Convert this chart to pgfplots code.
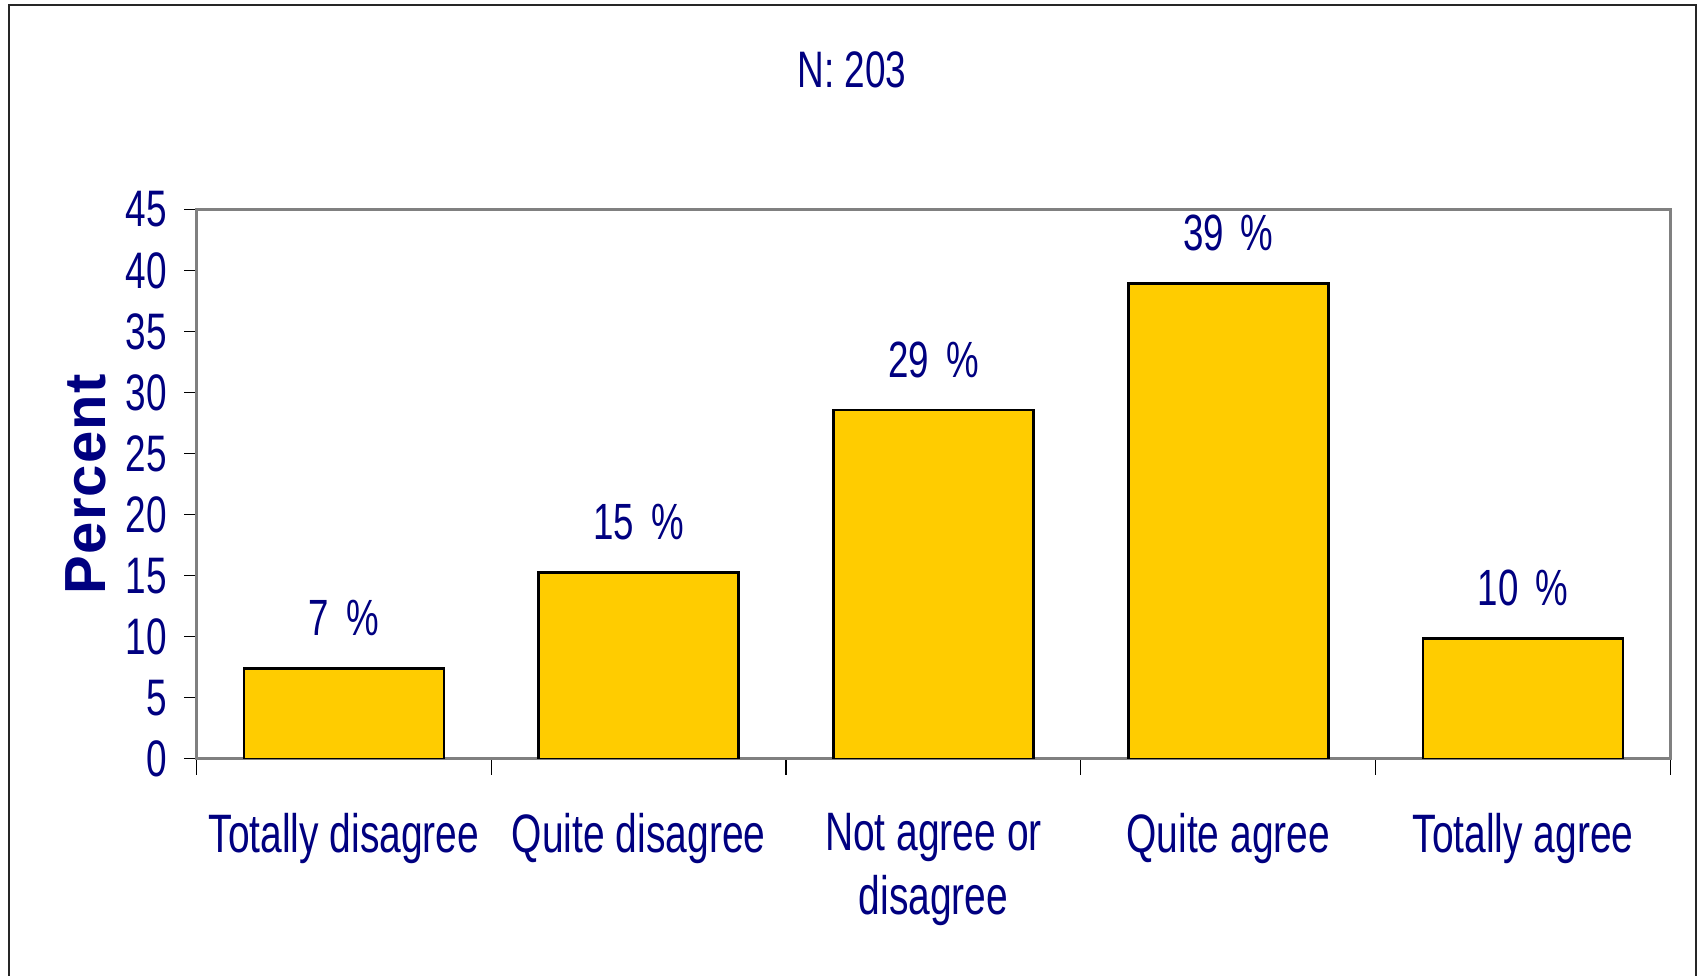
\documentclass[border=0pt]{standalone}
\usepackage{fontspec}
\setmainfont{Liberation Sans}[FakeStretch=0.72]
\newfontfamily\widefont{Liberation Sans}[LetterSpace=2]
\usepackage{pgfplots}
\pgfplotsset{compat=1.18}
\definecolor{navytext}{HTML}{000080}
\definecolor{barfill}{HTML}{FFCC00}
\definecolor{boxgray}{HTML}{808080}

\begin{document}
\begin{tikzpicture}
\path[use as bounding box] (0,0) rectangle (170.2mm,97.5mm);
\draw[black!85, line width=0.2mm] (0.87mm,-1mm) -- (0.87mm,97.0mm) -- (169.6mm,97.0mm) -- (169.6mm,-1mm);
\begin{axis}[
    at={(19.65mm,21.62mm)}, anchor=south west,
    scale only axis,
    width=147.4mm, height=54.93mm,
    ybar, bar width=20mm,
    xmin=-0.5, xmax=4.5,
    ymin=0, ymax=45,
    ytick={0,5,10,15,20,25,30,35,40,45},
    xtick={0,1,2,3,4},
    xticklabels={Totally disagree, Quite disagree, {Not agree or\\disagree}, Quite agree, Totally agree},
    minor xtick={-0.5,0.5,1.5,2.5,3.5,4.5},
    xtick pos=bottom, ytick pos=left,
    tick align=outside,
    major tick length=1.2mm, minor tick length=1.6mm,
    tick style={black, line width=0.12mm},
    major x tick style={draw=none},
    axis line style={boxgray, line width=0.3mm},
    /pgf/number format/assume math mode=true,
    tick label style={font=\fontsize{14.6}{17}\selectfont, text=navytext},
    yticklabel style={xshift=-0.5mm},
    xticklabel style={font=\fontsize{15.4}{18.3}\selectfont, align=center, yshift=-3mm},
    ylabel={\widefont\bfseries Percent},
    ylabel style={at={(axis description cs:-0.0615,0.5)}, anchor=base, font=\fontsize{16.5}{19}\selectfont, text=navytext},
    title={N: 203},
    title style={at={(axis description cs:0.4447,1.183)}, anchor=base, font=\fontsize{14.6}{17}\selectfont, text=navytext},
]
\addplot[fill=barfill, draw=black, line width=0.25mm,
    point meta=explicit symbolic,
    nodes near coords,
    nodes near coords style={anchor=base, yshift=3.3mm, font=\fontsize{14.5}{17}\selectfont, text=navytext}]
    coordinates {
        (0,7.39) [7\hspace{1.7mm}\%]
        (1,15.27) [15\hspace{1.7mm}\%]
        (2,28.57) [29\hspace{1.7mm}\%]
        (3,38.92) [39\hspace{1.7mm}\%]
        (4,9.85) [10\hspace{1.7mm}\%]
    };
\end{axis}
\end{tikzpicture}
\end{document}
